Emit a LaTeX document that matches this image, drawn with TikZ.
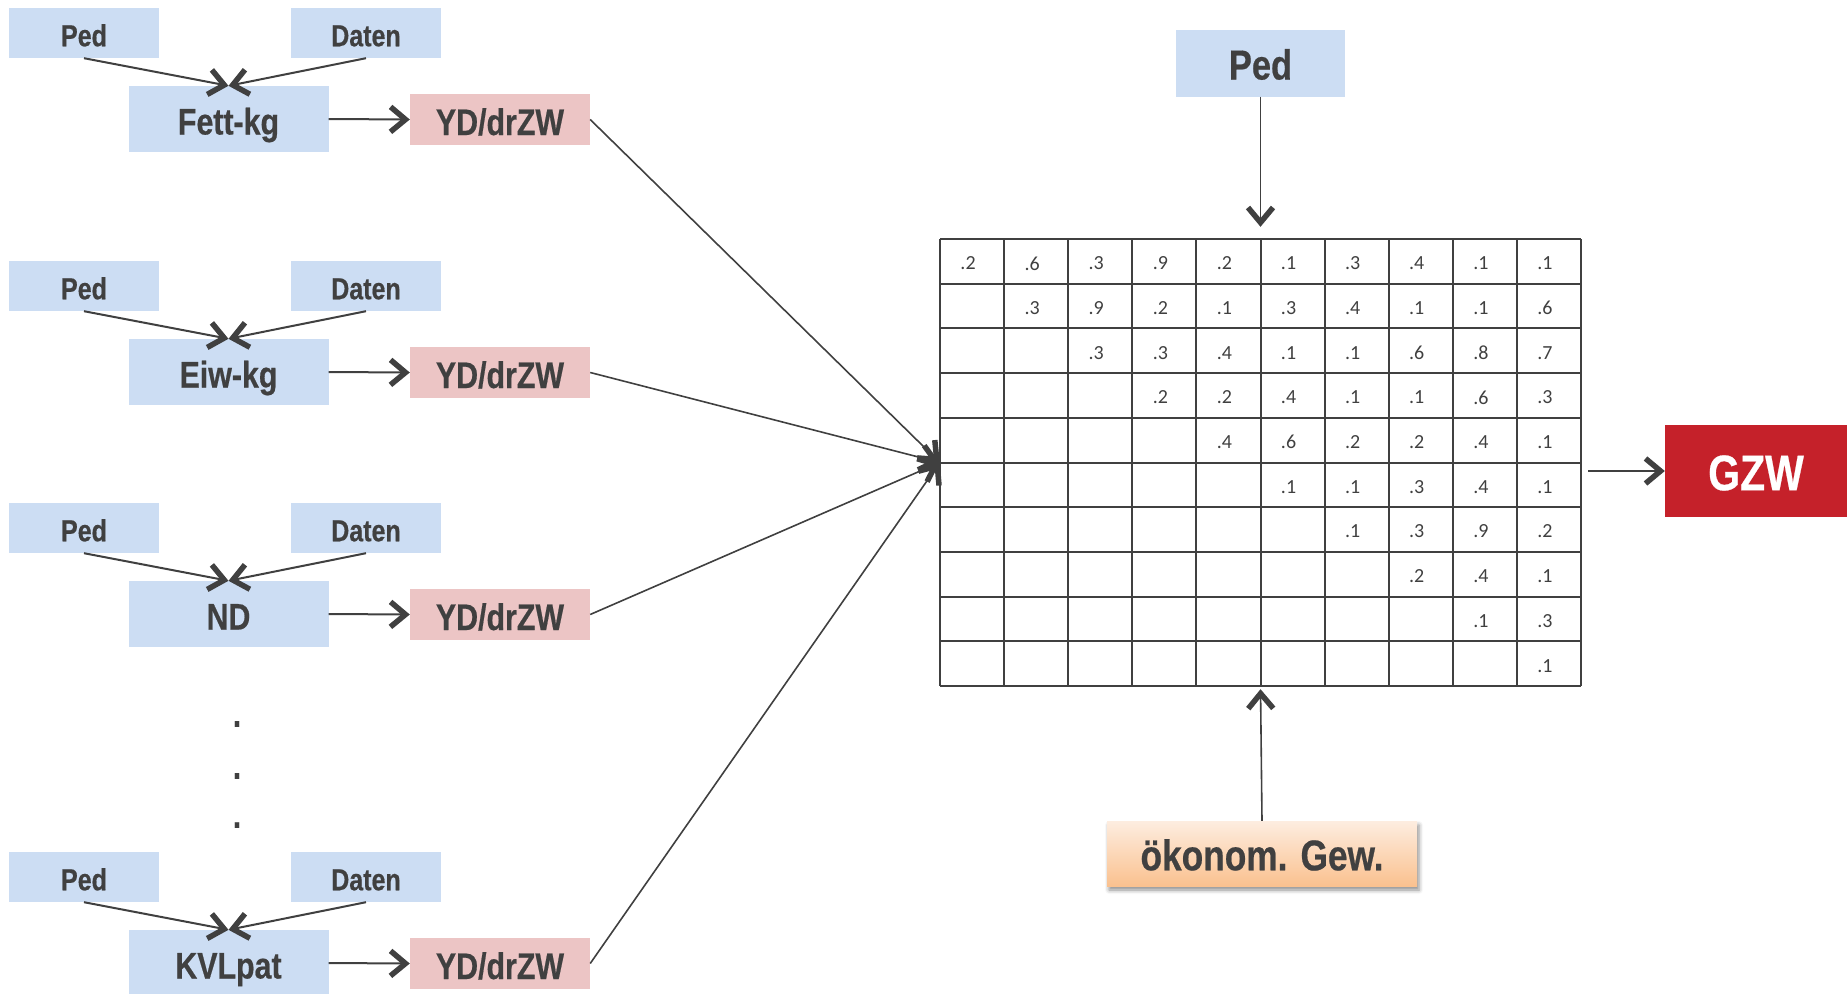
\documentclass[tikz,border=0pt]{standalone}
\usepackage{fontspec}
\setmainfont[FakeStretch=0.82, BoldFeatures={FakeBold=0.5}]{Liberation Sans}
\newfontfamily\numfont{Carlito}
\usetikzlibrary{arrows.meta,shadows.blur}
\definecolor{boxblue}{HTML}{CCDDF3}
\definecolor{boxpink}{HTML}{ECC5C5}
\definecolor{gzwred}{HTML}{C5212A}
\definecolor{txtgray}{HTML}{404040}
\definecolor{peachtop}{HTML}{FDEDE0}
\definecolor{peachbot}{HTML}{FAC18F}
\tikzset{
  lbl/.style={inner sep=0pt, text=txtgray, text depth=0bp},
  srcbox/.style={lbl, fill=boxblue, minimum width=150bp, minimum height=50bp,
    font=\fontsize{30.5bp}{35bp}\selectfont\bfseries, text height=26.5bp},
  traitbox/.style={lbl, fill=boxblue, minimum width=200bp, minimum height=66bp,
    font=\fontsize{37bp}{42bp}\selectfont\bfseries, text height=31bp},
  ydbox/.style={lbl, fill=boxpink, minimum width=180bp, minimum height=51bp,
    font=\fontsize{37bp}{42bp}\selectfont\bfseries, text height=31bp},
  pedbig/.style={lbl, fill=boxblue, minimum width=169bp, minimum height=67bp,
    font=\fontsize{42bp}{48bp}\selectfont\bfseries, text height=33bp},
  oekbox/.style={lbl, top color=peachtop, bottom color=peachbot, minimum width=310bp, minimum height=65bp,
    font=\fontsize{43bp}{48bp}\selectfont\bfseries, text height=33.6bp,
    blur shadow={shadow xshift=2bp, shadow yshift=-4bp, shadow blur radius=4bp, shadow opacity=45}},
  gzwbox/.style={lbl, fill=gzwred, text=white, minimum width=182bp, minimum height=92bp,
    font=\fontsize{50bp}{56bp}\selectfont\bfseries, text height=38.4bp},
  dotnode/.style={inner sep=0pt, text=txtgray, font=\fontsize{37bp}{42bp}\selectfont\bfseries},
  cell/.style={inner sep=0pt, text=txtgray, font=\numfont\fontsize{20bp}{24bp}\selectfont},
  gridline/.style={draw=txtgray, line width=2bp},
  conn/.style={draw=txtgray, line width=2bp, -{Straight Barb[length=15bp,width=25bp,line width=5.5bp 0]}},
  thinconn/.style={draw=txtgray, line width=1.6bp, -{Straight Barb[length=15bp,width=25bp,line width=5.5bp 0]}},
}
\begin{document}
\begin{tikzpicture}[x=1bp, y=-1bp]
\useasboundingbox (0,0) rectangle (1847,993);
% left chains
\foreach \i/\dy/\trait in {1/0/Fett-kg, 2/253/Eiw-kg, 3/495/ND, 4/844/KVLpat}{
  \node[srcbox] (ped\i) at (84,33+\dy) {Ped};
  \node[srcbox] (dat\i) at (366,33+\dy) {Daten};
  \node[traitbox] (tr\i) at (228.5,119+\dy) {\trait};
  \node[ydbox] (yd\i) at (500,119.5+\dy) {YD/drZW};
}
\foreach \k/\yy in {1/724, 2/776, 3/825}
  \node[dotnode] (dot\k) at (237,\yy) {.};
% matrix
\node[inner sep=0pt, minimum width=641bp, minimum height=447bp] (grid) at (1260.5,462.5) {};
\foreach \k in {0,...,10}{
  \draw[gridline] ({940+\k*64.1},239) -- ({940+\k*64.1},686);
  \draw[gridline] (940,{239+\k*44.7}) -- (1581,{239+\k*44.7});
}
\foreach \r/\vals in {1/{.2,.6,.3,.9,.2,.1,.3,.4,.1,.1},
                      2/{.3,.9,.2,.1,.3,.4,.1,.1,.6},
                      3/{.3,.3,.4,.1,.1,.6,.8,.7},
                      4/{.2,.2,.4,.1,.1,.6,.3},
                      5/{.4,.6,.2,.2,.4,.1},
                      6/{.1,.1,.3,.4,.1},
                      7/{.1,.3,.9,.2},
                      8/{.2,.4,.1},
                      9/{.1,.3},
                      10/{.1}}{
  \foreach \v [count=\c from \r] in \vals
    \node[cell] (m\r-\c) at ({936+(\c-0.5)*64.1},{241+(\r-0.5)*44.7}) {\v};
}
% right side
\node[pedbig] (pedtop) at (1260.5,63) {Ped};
\node[oekbox] (oek) at (1262,853.5) {ökonom. Gew.};
\node[gzwbox] (gzw) at (1756,471) {GZW};
\coordinate (gzwin) at (1588,471);
% connectors
\foreach \i in {1,...,4}{
  \draw[conn] (ped\i.south) -- (tr\i.north);
  \draw[conn] (dat\i.south) -- (tr\i.north);
  \draw[conn] (tr\i.east) -- (yd\i.west);
  \draw[thinconn] (yd\i.east) -- (grid.west);
}
\draw[thinconn, shorten >=12bp] (pedtop.south) -- (grid.north);
\draw[thinconn, shorten >=3bp] (oek.north) -- (grid.south);
\draw[thinconn] (gzwin) -- (gzw.west);
\end{tikzpicture}
\end{document}
